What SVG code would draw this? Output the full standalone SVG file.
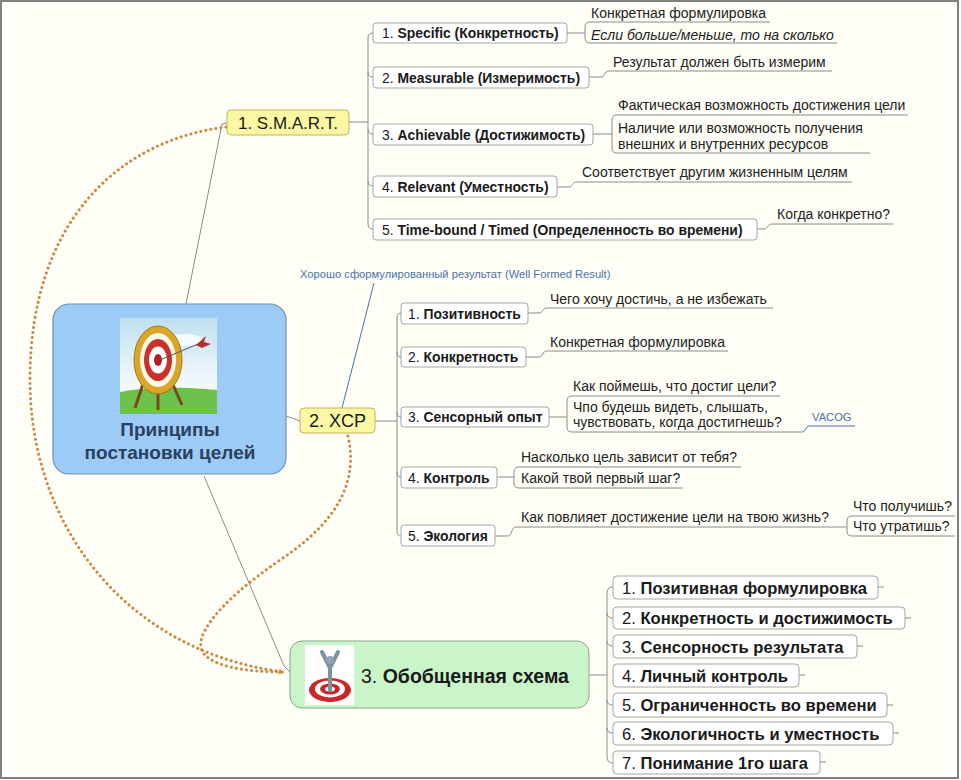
<svg xmlns="http://www.w3.org/2000/svg" width="961" height="780" viewBox="0 0 961 780">
<defs>
<style>
text{font-family:"Liberation Sans",Arial,sans-serif;fill:#1a1a1a}
.c{font-size:13.9px}
.g{font-size:14px;fill:#222}
.b{font-weight:bold}
.sb{font-size:16.6px}
.blue{font-size:11.2px;fill:#4a72a8}
.ln{fill:none;stroke:#8a8a8a;stroke-width:1}
.ul{fill:none;stroke:#8a8a8a;stroke-width:1}
.box{fill:#ffffff;stroke:#a6a6a6;stroke-width:1}
.yel{fill:#fbf7a2;stroke:#c2b45c;stroke-width:1}
.dot{fill:none;stroke:#c98a45;stroke-width:3;stroke-linecap:round;stroke-dasharray:0.1 5}
</style>
<marker id="arr" viewBox="0 0 10 10" refX="8" refY="5" markerWidth="5" markerHeight="5" orient="auto" markerUnits="userSpaceOnUse">
<path d="M0,0 L10,5 L0,10 z" fill="#e08a30"/>
</marker>
<linearGradient id="sky" x1="0" y1="0" x2="0" y2="1">
<stop offset="0" stop-color="#bfe0ef"/>
<stop offset="0.6" stop-color="#eef6fa"/>
<stop offset="1" stop-color="#ffffff"/>
</linearGradient>
</defs>
<rect x="1" y="1" width="957" height="777" fill="#fffef6" stroke="#808080" stroke-width="2"/>

<g id="connectors">
<path class="ln" d="M186,304 L222,124 L227,123"/>
<path class="ln" d="M286,416 L300,421"/>
<path class="ln" d="M204,476 L284,666 L290,672"/>
<path d="M342,408 L374,283" fill="none" stroke="#4a6fa5" stroke-width="1"/>
<path class="ln" d="M349,122 L368,122"/>
<path class="ln" d="M373,33 Q368,33 368,38 L368,224 Q368,229 373,229"/>
<path class="ln" d="M368,72 Q368,77 373,77"/>
<path class="ln" d="M368,129 Q368,134 373,134"/>
<path class="ln" d="M368,181 Q368,186 373,186"/>
<path class="ln" d="M567,33 L585,33"/>
<path class="ul" d="M770,22 L590,22 Q585,22 585,27 L585,38 Q585,43 590,43 L837,43"/>
<path class="ul" d="M589,77 L601,77 C605,77 604,71 609,71 L832,71"/>
<path class="ln" d="M593,134 L612,134"/>
<path class="ul" d="M908,115 L617,115 Q612,115 612,120 L612,148 Q612,153 617,153 L870,153"/>
<path class="ul" d="M557,187 L569,187 C573,187 572,182 577,182 L852,182"/>
<path class="ul" d="M757,229 L764,229 C768,229 767,224 772,224 L893,224"/>
<path class="ln" d="M375,421 L397,421"/>
<path class="ln" d="M401,313 Q397,313 397,318 L397,531 Q397,536 401,536"/>
<path class="ln" d="M397,352 Q397,357 401,357"/>
<path class="ln" d="M397,412 Q397,417 401,417"/>
<path class="ln" d="M397,472 Q397,477 401,477"/>
<path class="ul" d="M528,313 L539,313 C543,313 542,308 547,308 L773,308"/>
<path class="ul" d="M526,357 L539,357 C543,357 542,351 547,351 L728,351"/>
<path class="ln" d="M549,417 L567,417"/>
<path class="ul" d="M780,396 L572,396 Q567,396 567,401 L567,427 Q567,432 572,432 L802,432"/>
<path d="M802,432 C806,432 805,426 810,426 L855,426" fill="none" stroke="#4a6fa5" stroke-width="1"/>
<path class="ln" d="M497,477 L514,477"/>
<path class="ul" d="M741,467 L519,467 Q514,467 514,472 L514,483 Q514,488 519,488 L683,488"/>
<path class="ul" d="M495,536 L508,536 C512,536 511,527 516,527 L847,527"/>
<path class="ul" d="M955,516 L852,516 Q847,516 847,521 L847,531 Q847,536 852,536 L955,536"/>
<path class="ln" d="M589,675 L607,675"/>
<path class="ln" d="M613,587 Q607,587 607,593 L607,757 Q607,763 613,763"/>
<path class="ln" d="M607,613 Q607,618 613,618"/>
<path class="ln" d="M607,641 Q607,646 613,646"/>
<path class="ln" d="M607,700 Q607,705 613,705"/>
<path class="ln" d="M607,728 Q607,733 613,733"/>
<path class="ln" d="M878,587 L884,587 M905,618 L911,618 M857,646 L863,646 M799,675 L805,675 M887,705 L893,705 M893,733 L899,733 M820,762 L826,762"/>
<path class="dot" d="M226,127 C120,140 30,220 30,380 C30,520 120,650 283,672" marker-end="url(#arr)"/>
<path class="dot" d="M348,436 C358,480 340,520 280,560 C215,605 190,640 205,655 C220,670 260,672 283,672" marker-end="url(#arr)"/>
</g>

<g id="central">
<rect x="53" y="304" width="233" height="170" rx="16" fill="#9ccbf6" stroke="#6f90b4" stroke-width="1.2"/>
<rect x="120" y="318" width="97" height="96" fill="url(#sky)"/>
<ellipse cx="185" cy="340" rx="18" ry="6" fill="#ffffff" opacity="0.8"/>
<path d="M120,392 Q160,384 217,390 L217,414 L120,414 z" fill="#6cc24a"/>
<path d="M145,378 L135,408 M170,378 L182,405 M158,382 L158,410" stroke="#7a4a1e" stroke-width="3" fill="none"/>
<ellipse cx="158" cy="360" rx="24" ry="34" fill="#d9a628" stroke="#a57a18" stroke-width="1"/>
<ellipse cx="158" cy="360" rx="18" ry="27" fill="#fff7e8"/>
<ellipse cx="158" cy="360" rx="14" ry="21" fill="#c8322a"/>
<ellipse cx="158" cy="360" rx="9" ry="13.5" fill="#ffffff"/>
<ellipse cx="158" cy="360" rx="4" ry="6" fill="#b0201c"/>
<path d="M160,360 L198,344" stroke="#555" stroke-width="1"/>
<path d="M196,345 L206,336 L204,342 L211,344 L202,348 z" fill="#b4302a"/>
<text x="170" y="436" text-anchor="middle" class="b" style="font-size:19px;fill:#2b3f5e">Принципы</text>
<text x="170" y="459" text-anchor="middle" class="b" style="font-size:19px;fill:#2b3f5e">постановки целей</text>
</g>

<g id="smart">
<rect class="yel" x="227" y="110" width="122" height="25" rx="4"/>
<text x="288" y="128.5" text-anchor="middle" style="font-size:17px">1. S.M.A.R.T.</text>
</g>

<g id="xcp">
<rect class="yel" x="300" y="408" width="75" height="25" rx="4"/>
<text x="337.5" y="427" text-anchor="middle" style="font-size:18px">2. XCP</text>
<text x="300" y="278" class="blue">Хорошо сформулированный результат (Well Formed Result)</text>
</g>

<g id="general">
<rect x="290" y="641" width="299" height="67" rx="12" fill="#c9f5c9" stroke="#8aa58a" stroke-width="1"/>
<rect x="305" y="645" width="49" height="60" fill="#ffffff"/>
<ellipse cx="330" cy="690" rx="21" ry="12" fill="#c8282a"/>
<ellipse cx="330" cy="689" rx="15" ry="8.5" fill="#ffffff"/>
<ellipse cx="330" cy="689" rx="10" ry="5.5" fill="#c8282a"/>
<ellipse cx="330" cy="689" rx="5" ry="2.5" fill="#ffffff"/>
<path d="M330,690 L330,666 M330,668 L322,652 M330,668 L338,652" stroke="#7d939d" stroke-width="4" fill="none" stroke-linecap="round"/>
<circle cx="330" cy="660" r="4" fill="#8fa6b0"/>
<text x="361" y="682.5" style="font-size:19.5px">3. <tspan class="b">Обобщенная схема</tspan></text>
</g>

<g id="smart-1"><rect class="box" x="373" y="23" width="194" height="20" rx="3"/><text class="c" x="382" y="38">1. <tspan class="b">Specific (Конкретность)</tspan></text></g>
<g id="smart-2"><rect class="box" x="373" y="67" width="216" height="21" rx="3"/><text class="c" x="382" y="82.5">2. <tspan class="b">Measurable (Измеримость)</tspan></text></g>
<g id="smart-3"><rect class="box" x="373" y="124" width="220" height="21" rx="3"/><text class="c" x="382" y="139.5">3. <tspan class="b">Achievable (Достижимость)</tspan></text></g>
<g id="smart-4"><rect class="box" x="373" y="176" width="184" height="21" rx="3"/><text class="c" x="382" y="191.5">4. <tspan class="b">Relevant (Уместность)</tspan></text></g>
<g id="smart-5"><rect class="box" x="373" y="219" width="384" height="21" rx="3"/><text class="c" x="382" y="234.5">5. <tspan class="b">Time-bound / Timed (Определенность во времени)</tspan></text></g>

<g id="smart-1-a"><text class="g" x="591" y="18">Конкретная формулировка</text></g>
<g id="smart-1-b"><text class="g" x="591" y="40" font-style="italic">Если больше/меньше, то на сколько</text></g>
<g id="smart-2-a"><text class="g" x="613" y="67">Результат должен быть измерим</text></g>
<g id="smart-3-a"><text class="g" x="618" y="110">Фактическая возможность достижения цели</text></g>
<g id="smart-3-b"><text class="g" x="618" y="133">Наличие или возможность получения</text><text class="g" x="618" y="149">внешних и внутренних ресурсов</text></g>
<g id="smart-4-a"><text class="g" x="582" y="177">Соответствует другим жизненным целям</text></g>
<g id="smart-5-a"><text class="g" x="777" y="219">Когда конкретно?</text></g>

<g id="xcp-1"><rect class="box" x="401" y="303" width="127" height="21" rx="3"/><text class="c" x="408" y="318.5">1. <tspan class="b">Позитивность</tspan></text></g>
<g id="xcp-2"><rect class="box" x="401" y="347" width="125" height="20" rx="3"/><text class="c" x="408" y="362">2. <tspan class="b">Конкретность</tspan></text></g>
<g id="xcp-3"><rect class="box" x="401" y="407" width="148" height="20" rx="3"/><text class="c" x="408" y="422">3. <tspan class="b">Сенсорный опыт</tspan></text></g>
<g id="xcp-4"><rect class="box" x="401" y="467" width="96" height="21" rx="3"/><text class="c" x="408" y="482.5">4. <tspan class="b">Контроль</tspan></text></g>
<g id="xcp-5"><rect class="box" x="401" y="525" width="94" height="21" rx="3"/><text class="c" x="408" y="540.5">5. <tspan class="b">Экология</tspan></text></g>

<g id="xcp-1-a"><text class="g" x="550" y="304">Чего хочу достичь, а не избежать</text></g>
<g id="xcp-2-a"><text class="g" x="550" y="347">Конкретная формулировка</text></g>
<g id="xcp-3-a"><text class="g" x="573" y="391">Как поймешь, что достиг цели?</text></g>
<g id="xcp-3-b"><text class="g" x="573" y="412">Чпо будешь видеть, слышать,</text><text class="g" x="573" y="427">чувствовать, когда достигнешь?</text></g>
<g id="xcp-3-b-1"><text class="blue" x="812" y="421">VACOG</text></g>
<g id="xcp-4-a"><text class="g" x="521" y="462">Насколько цель зависит от тебя?</text></g>
<g id="xcp-4-b"><text class="g" x="521" y="483">Какой твой первый шаг?</text></g>
<g id="xcp-5-a"><text class="g" x="521" y="522">Как повлияет достижение цели на твою жизнь?</text></g>
<g id="xcp-5-a-1"><text class="g" x="853" y="511">Что получишь?</text></g>
<g id="xcp-5-a-2"><text class="g" x="853" y="531">Что утратишь?</text></g>

<g id="gen-1"><rect class="box" x="613" y="576" width="265" height="23" rx="4"/><text class="sb" x="622" y="593.5">1. <tspan class="b">Позитивная формулировка</tspan></text></g>
<g id="gen-2"><rect class="box" x="613" y="607" width="292" height="22" rx="4"/><text class="sb" x="622" y="624">2. <tspan class="b">Конкретность и достижимость</tspan></text></g>
<g id="gen-3"><rect class="box" x="613" y="635" width="244" height="23" rx="4"/><text class="sb" x="622" y="652.5">3. <tspan class="b">Сенсорность результата</tspan></text></g>
<g id="gen-4"><rect class="box" x="613" y="664" width="186" height="23" rx="4"/><text class="sb" x="622" y="681.5">4. <tspan class="b">Личный контроль</tspan></text></g>
<g id="gen-5"><rect class="box" x="613" y="693" width="274" height="24" rx="4"/><text class="sb" x="622" y="711">5. <tspan class="b">Ограниченность во времени</tspan></text></g>
<g id="gen-6"><rect class="box" x="613" y="722" width="280" height="23" rx="4"/><text class="sb" x="622" y="739.5">6. <tspan class="b">Экологичность и уместность</tspan></text></g>
<g id="gen-7"><rect class="box" x="613" y="751" width="207" height="23" rx="4"/><text class="sb" x="622" y="768.5">7. <tspan class="b">Понимание 1го шага</tspan></text></g>
</svg>
